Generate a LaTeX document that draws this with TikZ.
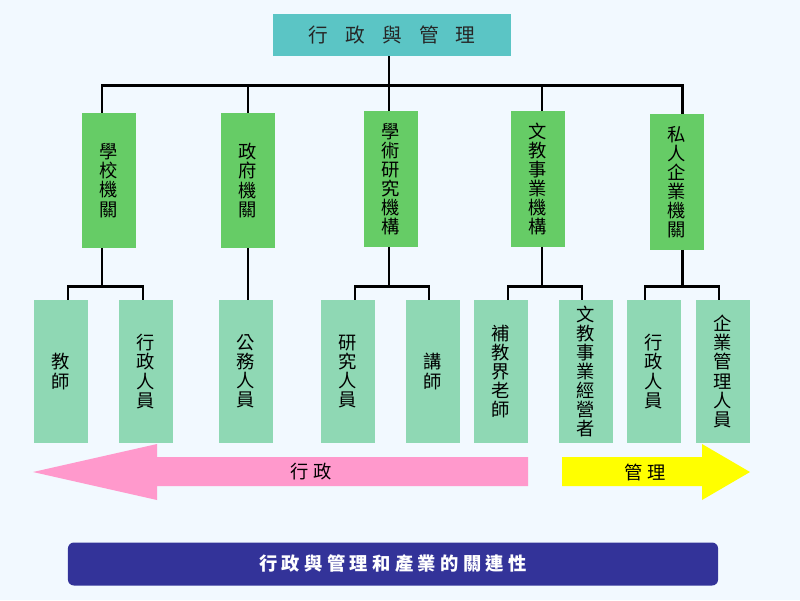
\documentclass[tikz,border=0pt]{standalone}
\usepackage{fontspec}
\setmainfont{Noto Sans CJK TC}
\usepackage{tikz}
\usetikzlibrary{calc}

\definecolor{bgblue}{HTML}{F2F9FF}
\definecolor{headteal}{HTML}{5BC5C5}
\definecolor{midgreen}{HTML}{66CC66}
\definecolor{lowmint}{HTML}{8FD8B4}
\definecolor{admpink}{HTML}{FF99CC}
\definecolor{mgtyellow}{HTML}{FFFF00}
\definecolor{barnavy}{HTML}{333399}

\newcommand{\gap}{\hspace{0.11cm}}

\begin{document}
\begin{tikzpicture}[
    x=0.025cm, y=-0.025cm,
    conn/.style={line width=2.1pt, black},
    midbox/.style={fill=midgreen, minimum width=1.35cm, minimum height=3.375cm},
    lowbox/.style={fill=lowmint, minimum width=1.35cm, minimum height=3.575cm},
    every node/.style={
        inner sep=0pt,
        align=center,
        font=\fontsize{13}{13.6}\selectfont,
        }
        ]
    \fill[bgblue] (0,0) rectangle (800,600);

    % head
    \node[fill=headteal, minimum width=5.95cm, minimum height=1.05cm,
          font=\fontsize{14}{14}\selectfont, text=black!85] (top) at (392,35)
          {行\hspace{0.43cm}政\hspace{0.43cm}與\hspace{0.43cm}管\hspace{0.43cm}理};

    % institutions
    \node[midbox] (school) at (109,180.5) {學\\校\\機\\關};
    \node[midbox] (gov) at (248,180.5) {政\\府\\機\\關};
    \node[midbox] (research) at (391,179) {學\\術\\研\\究\\機\\構};
    \node[midbox] (culture) at (538,179) {文\\教\\事\\業\\機\\構};
    \node[midbox] (private) at (676.5,182) {私\\人\\企\\業\\機\\關};

    % staff
    \node[lowbox] (teacher) at (61,371.5) {教\\師};
    \node[lowbox] (admin) at (146,371.5) {行\\政\\人\\員};
    \node[lowbox] (civil) at (246,371.5) {公\\務\\人\\員};
    \node[lowbox] (researcher) at (348,371.5) {研\\究\\人\\員};
    \node[lowbox] (lecturer) at (433,371.5) {講\\師};
    \node[lowbox] (tutor) at (501,371.5) {補\\教\\界\\老\\師};
    \node[lowbox] (operator) at (586,371.5) {文\\教\\事\\業\\經\\營\\者};
    \node[lowbox] (admintwo) at (654,371.5) {行\\政\\人\\員};
    \node[lowbox] (manager) at (723,371.5) {企\\業\\管\\理\\人\\員};

    % upper tree
    \draw[conn] ([xshift=-.075cm]top.south) -- ++(0,29) coordinate (hub);
    \draw[conn] ([xshift=-.175cm]school.north) |- (hub) -| ([xshift=.14cm]private.north);
    \draw[conn] (gov.north) -- (gov.north |- hub);
    \draw[conn] (hub) -- (hub |- research.north);
    \draw[conn] ([xshift=.1cm]culture.north) -- ++(0,-27);

    % lower tree
    \draw[conn] ([xshift=-.175cm]school.south) -- ++(0,38) coordinate (fkschool);
    \draw[conn] ([xshift=.175cm]teacher.north) |- (fkschool) -| ([xshift=-.075cm]admin.north);
    \draw[conn] (gov.south) -- (gov.south |- civil.north);
    \draw[conn] (research.south -| hub) -- ++(0,40) coordinate (fkresearch);
    \draw[conn] ([xshift=.175cm]researcher.north) |- (fkresearch) -| ([xshift=-.1cm]lecturer.north);
    \draw[conn] ([xshift=.1cm]culture.south) -- ++(0,40) coordinate (fkculture);
    \draw[conn] ([xshift=.175cm]tutor.north) |- (fkculture) -| ([xshift=-.1cm]operator.north);
    \draw[conn] ([xshift=.14cm]private.south) -- ++(0,37) coordinate (fkprivate);
    \draw[conn] ([xshift=-.225cm]admintwo.north) |- (fkprivate) -| ([xshift=-.1cm]manager.north);

    % arrows
    \fill[admpink] (528,457) -- (157,457) -- (157,444) -- (33,472) -- (157,500) -- (157,486) -- (528,486) -- cycle;
    \fill[mgtyellow] (562,457) -- (702,457) -- (702,444) -- (750,472) -- (702,500) -- (702,486) -- (562,486) -- cycle;
    \node (admlabel) at (311,472) {行\gap 政};
    \node (mgtlabel) at (645,472) {管\gap 理};

    % caption bar
    \node[fill=barnavy, rounded corners=0.15cm, minimum width=16.25cm, minimum height=1.075cm,
          text=white, font=\fontsize{13}{13}\selectfont\bfseries] (caption) at (393,564)
          {行\gap 政\gap 與\gap 管\gap 理\gap 和\gap 產\gap 業\gap 的\gap 關\gap 連\gap 性};
\end{tikzpicture}
\end{document}
